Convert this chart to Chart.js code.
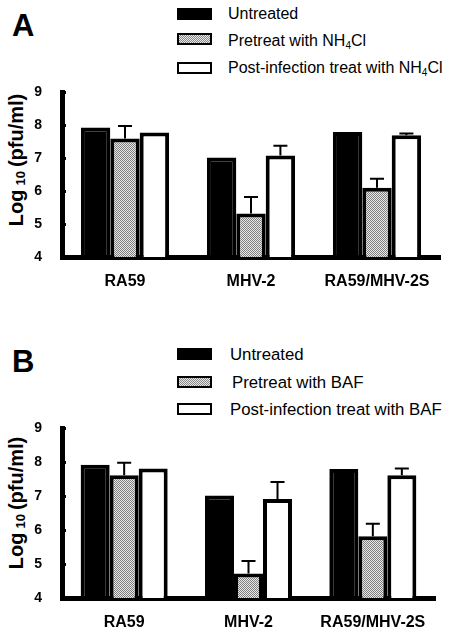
<!DOCTYPE html>
<html><head><meta charset="utf-8">
<script src="https://cdn.jsdelivr.net/npm/chart.js@4/dist/chart.umd.min.js"></script>
<style>
body{margin:0;width:456px;height:635px;background:#fff;position:relative;overflow:hidden;font-family:"Liberation Sans",Arial,sans-serif;color:#000}
.letter{position:absolute;font-weight:bold;font-size:31px;line-height:1;left:12px}
.box{position:absolute;left:177px;width:31px;height:8px;border:2px solid #000;background:#fff}
.box.black{background:#000}
.box.gray{background-image:repeating-conic-gradient(#888 0 25%,#e8e8e8 0 50%);background-size:2px 2px}
.lt{position:absolute;font-size:16px;line-height:18px;white-space:nowrap}
.lt sub{font-size:10px;vertical-align:-3px;line-height:0}
.ytitle{position:absolute;width:220px;height:24px;line-height:24px;text-align:center;transform:rotate(-90deg);font-weight:bold;font-size:20px;white-space:nowrap}
.ytitle sub{font-size:13px;vertical-align:-2px;line-height:0;margin:0 4px}
canvas{position:absolute}
</style></head>
<body>
<div class="letter" style="top:10px">A</div>
<div class="box black" style="top:8px"></div><div class="lt" style="left:228px;top:5px">Untreated</div>
<div class="box gray" style="top:33px"></div><div class="lt" style="left:228px;top:32px">Pretreat with NH<sub>4</sub>Cl</div>
<div class="box" style="top:62px"></div><div class="lt" style="left:228px;top:59px">Post-infection treat with NH<sub>4</sub>Cl</div>
<div class="ytitle" style="left:-94px;top:148px">Log<sub>10</sub>(pfu/ml)</div>
<div id="wa" style="position:absolute;left:0;top:60px;width:456px;height:240px"><canvas id="ca"></canvas></div>

<div class="letter" style="top:346px">B</div>
<div class="box black" style="top:348px"></div><div class="lt" style="left:230px;top:346px;font-size:16.8px">Untreated</div>
<div class="box gray" style="top:376px"></div><div class="lt" style="left:232px;top:374px;font-size:16.8px">Pretreat with BAF</div>
<div class="box" style="top:403px"></div><div class="lt" style="left:230px;top:401px;font-size:16.8px">Post-infection treat with BAF</div>
<div class="ytitle" style="left:-94px;top:491px">Log<sub>10</sub>(pfu/ml)</div>
<div id="wb" style="position:absolute;left:0;top:396px;width:456px;height:239px"><canvas id="cb"></canvas></div>

<script>
const categories = ["RA59", "MHV-2", "RA59/MHV-2S"];
const seriesNames = ["Untreated", "Pretreat", "Post-infection treat"];
const yTicks = [4, 5, 6, 7, 8, 9];

// Panel A (NH4Cl)
const untreatedA = [7.93, 7.02, 7.80];
const pretreatA = [7.60, 5.32, 6.10];
const pretreatErrA = [0.38, 0.50, 0.28];
const postA = [7.78, 7.08, 7.70];
const postErrA = [0, 0.30, 0.05];

// Panel B (BAF)
const untreatedB = [7.93, 7.02, 7.80];
const pretreatB = [7.62, 4.72, 5.82];
const pretreatErrB = [0.37, 0.37, 0.37];
const postB = [7.82, 6.92, 7.62];
const postErrB = [0, 0.50, 0.20];

function grayPattern(){
  const c = document.createElement('canvas'); c.width = 2; c.height = 2;
  const g = c.getContext('2d');
  g.fillStyle = '#e8e8e8'; g.fillRect(0,0,2,2);
  g.fillStyle = '#808080'; g.fillRect(0,0,1,1); g.fillRect(1,1,1,1);
  return g.createPattern(c, 'repeat');
}

const errorBars = {
  id: 'errorBars',
  afterDatasetsDraw(chart){
    const ctx = chart.ctx, ys = chart.scales.y;
    chart.data.datasets.forEach((ds, di) => {
      if (!ds.err) return;
      const meta = chart.getDatasetMeta(di);
      meta.data.forEach((bar, i) => {
        const e = ds.err[i]; if (!e) return;
        const yTop = ys.getPixelForValue(ds.data[i] + e);
        ctx.save();
        ctx.strokeStyle = '#000'; ctx.lineWidth = 2;
        ctx.beginPath();
        ctx.moveTo(bar.x, bar.y); ctx.lineTo(bar.x, yTop);
        ctx.moveTo(bar.x - 7, yTop); ctx.lineTo(bar.x + 7, yTop);
        ctx.stroke();
        ctx.restore();
      });
    });
  }
};

function makeChart(id, untr, pre, preErr, post, postErr, padRight, xHeight){
  const pat = grayPattern();
  return new Chart(document.getElementById(id), {
    type: 'bar',
    data: {
      labels: categories,
      datasets: [
        {label: seriesNames[0], data: untr, backgroundColor: '#000', borderColor: '#000', borderWidth: 4},
        {label: seriesNames[1], data: pre, err: preErr, backgroundColor: pat, borderColor: '#000', borderWidth: 4},
        {label: seriesNames[2], data: post, err: postErr, backgroundColor: '#fff', borderColor: '#000', borderWidth: 4}
      ]
    },
    options: {
      responsive: true, maintainAspectRatio: false, animation: false,
      categoryPercentage: 0.70, barPercentage: 1.0,
      layout: {padding: {top: 10, right: padRight, left: 0, bottom: 0}},
      plugins: {legend: {display: false}, tooltip: {enabled: false}},
      scales: {
        x: {
          grid: {display: false},
          border: {display: true, color: '#000', width: 5},
          ticks: {color: '#000', padding: 7, font: {family: '"Liberation Sans", Arial, sans-serif', size: 16, weight: 'bold'}},
          afterFit(s){ s.height = xHeight; }
        },
        y: {
          min: 4, max: 9,
          afterBuildTicks(s){ s.ticks = yTicks.map(v => ({value: v})); },
          grid: {display: true, drawOnChartArea: false, drawTicks: true, tickLength: -4, color: '#000', lineWidth: 3},
          border: {display: true, color: '#000', width: 5},
          ticks: {color: '#000', padding: 24, font: {family: '"Liberation Sans", Arial, sans-serif', size: 14, weight: 'bold'}},
          afterFit(s){ s.width = 62; }
        }
      }
    },
    plugins: [errorBars]
  });
}

makeChart('ca', untreatedA, pretreatA, pretreatErrA, postA, postErrA, 16, 43);
makeChart('cb', untreatedB, pretreatB, pretreatErrB, postB, postErrB, 21, 37);
</script>
</body></html>
